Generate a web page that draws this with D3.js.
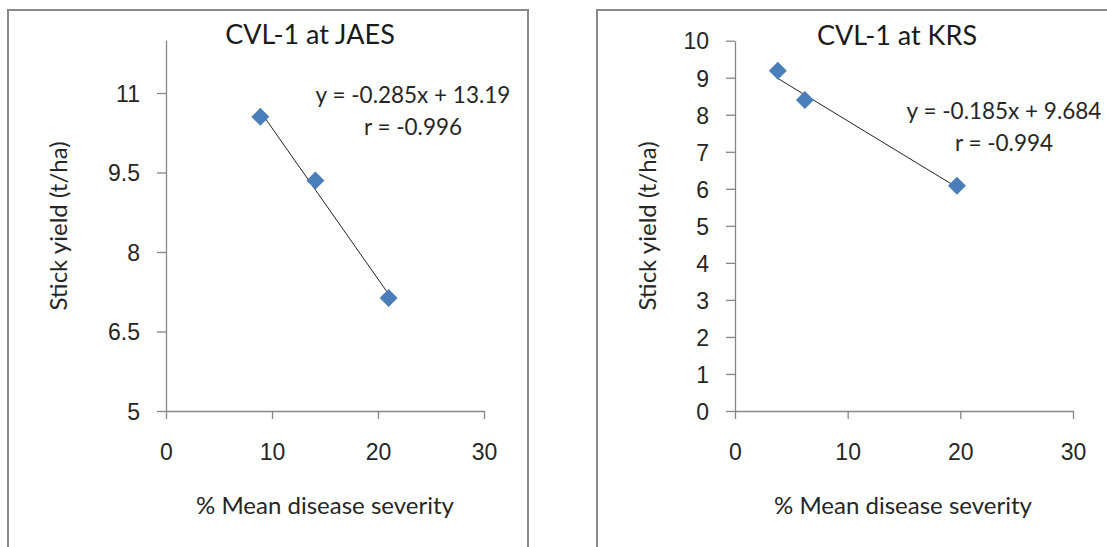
<!DOCTYPE html>
<html>
<head>
<meta charset="utf-8">
<script src="https://cdn.jsdelivr.net/npm/d3@7"></script>
<style>
  html, body { margin: 0; padding: 0; background: #fff; }
  svg { display: block; font-family: Lato, "Open Sans", sans-serif; }
  .axis path, .axis line { stroke: #868686; stroke-width: 1.3; }
  .axis text { fill: #262626; font-size: 23px; }
</style>
</head>
<body>
<div id="chart"></div>
<script>
// --- Data ---
const jaesSeverity = [8.9, 14.1, 21.0];
const jaesYield = [10.55, 9.35, 7.13];
const jaesFit = { slope: -0.285, intercept: 13.19 };
const jaesLabels = ['y = -0.285x + 13.19', 'r = -0.996'];

const krsSeverity = [3.8, 6.2, 19.7];
const krsYield = [9.19, 8.40, 6.08];
const krsFit = { slope: -0.185, intercept: 9.684 };
const krsLabels = ['y = -0.185x + 9.684', 'r = -0.994'];

const xTicks = [0, 10, 20, 30];
const jaesYTicks = [5, 6.5, 8, 9.5, 11];
const krsYTicks = [0, 1, 2, 3, 4, 5, 6, 7, 8, 9, 10];

const W = 1107, H = 547;
const svg = d3.select('#chart').append('svg').attr('width', W).attr('height', H);

// --- One panel ---
function drawPanel(p) {
    // chart area frame (runs off the page bottom / right)
    svg.append('rect')
        .attr('x', p.frame[0]).attr('y', p.frame[1])
        .attr('width', p.frame[2]).attr('height', 600)
        .attr('fill', '#fff').attr('stroke', '#888').attr('stroke-width', 2);

    const x = d3.scaleLinear().domain([0, 30]).range([p.left, p.right]);
    const y = d3.scaleLinear().domain(p.yDomain).range([411, p.top]);

    // y axis
    const gy = svg.append('g').attr('class', 'axis')
        .attr('transform', `translate(${p.left},0)`)
        .call(d3.axisLeft(y).tickValues(p.yTicks).tickSize(9).tickSizeOuter(0)
            .tickFormat(d => d));
    gy.selectAll('text').attr('x', -26).attr('dy', '0.36em');

    // x axis
    const gx = svg.append('g').attr('class', 'axis')
        .attr('transform', 'translate(0,411)')
        .call(d3.axisBottom(x).tickValues(xTicks).tickSize(8).tickSizeOuter(0));
    gx.selectAll('text').attr('y', 49).attr('dy', 0);

    // trendline over the data range
    const xs = d3.extent(p.sev);
    svg.append('line')
        .attr('x1', x(xs[0])).attr('y1', y(p.fit.slope * xs[0] + p.fit.intercept))
        .attr('x2', x(xs[1])).attr('y2', y(p.fit.slope * xs[1] + p.fit.intercept))
        .attr('stroke', '#222').attr('stroke-width', 1);

    // diamond markers
    svg.append('g').selectAll('path')
        .data(p.sev.map((s, i) => [s, p.yld[i]]))
        .join('path')
        .attr('transform', d => `translate(${x(d[0])},${y(d[1])})`)
        .attr('d', 'M0,-9L9,0L0,9L-9,0Z')
        .attr('fill', '#4a7ebb');

    // title
    svg.append('text').attr('x', p.titleX).attr('y', p.titleY)
        .attr('text-anchor', 'middle').attr('fill', '#1a1a1a')
        .style('font-size', '27px').text(p.title);

    // equation label
    p.eq.forEach((t, i) => {
        svg.append('text').attr('x', p.eqX).attr('y', p.eqY + i * 32)
            .attr('text-anchor', 'middle').attr('fill', '#262626')
            .style('font-size', '22.5px').text(t);
    });

    // axis titles
    svg.append('text').attr('x', (p.left + p.right) / 2 + p.xLabelShift).attr('y', 514)
        .attr('text-anchor', 'middle').attr('fill', '#262626')
        .style('font-size', '24px').text('% Mean disease severity');
    svg.append('text')
        .attr('transform', `translate(${p.yLabelX},226) rotate(-90)`)
        .attr('text-anchor', 'middle').attr('fill', '#262626')
        .style('font-size', '24px').text('Stick yield (t/ha)');
}

drawPanel({
    frame: [8, 10, 520], left: 166, right: 484, top: 40, yDomain: [5, 12],
    yTicks: jaesYTicks, sev: jaesSeverity, yld: jaesYield, fit: jaesFit,
    title: 'CVL-1 at JAES', titleX: 310, titleY: 44,
    eq: jaesLabels, eqX: 413, eqY: 103, xLabelShift: 0, yLabelX: 67
});

drawPanel({
    frame: [597, 10, 600], left: 735, right: 1073, top: 40.7, yDomain: [0, 10],
    yTicks: krsYTicks, sev: krsSeverity, yld: krsYield, fit: krsFit,
    title: 'CVL-1 at KRS', titleX: 897, titleY: 45,
    eq: krsLabels, eqX: 1004, eqY: 119, xLabelShift: -1, yLabelX: 656
});
</script>
</body>
</html>
